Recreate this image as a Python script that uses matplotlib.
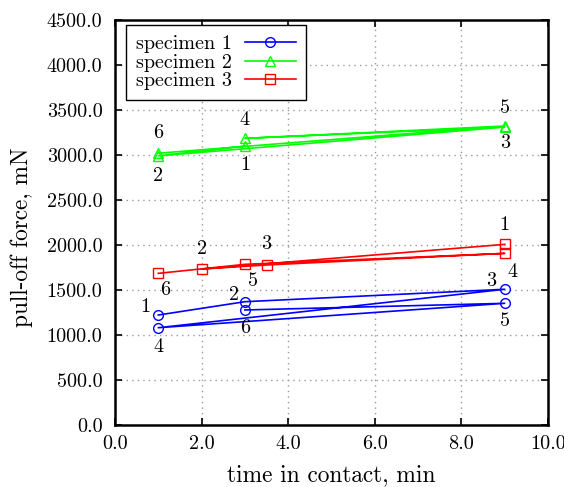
import matplotlib
matplotlib.use("Agg")
import matplotlib.pyplot as plt
from matplotlib.ticker import FormatStrFormatter, MultipleLocator

plt.rcParams["font.family"] = "cmr10"
plt.rcParams["mathtext.fontset"] = "cm"
plt.rcParams["axes.formatter.use_mathtext"] = True

# time in contact (min) and pull-off force (mN), in test order 1..6
s1_time = [1, 3, 9, 1, 9, 3]
s1_force = [1222, 1370, 1508, 1081, 1352, 1278]

s2_time = [3, 1, 9, 3, 9, 1]
s2_force = [3100, 2990, 3310, 3185, 3322, 3020]

s3_time = [9, 2, 3.5, 9, 3, 1]
s3_force = [2007, 1733, 1778, 1907, 1785, 1685]

series_names = ["specimen 1", "specimen 2", "specimen 3"]
point_labels = ["1", "2", "3", "4", "5", "6"]

# label offsets in pixels (dx, dy) for each point
s1_offsets = [(-13, 8), (-11, 7), (-14, 8), (0, -19), (0, -18), (0, -18)]
s2_offsets = [(0, -19), (0, -20), (0, -16), (0, 18), (0, 18), (0, 20)]
s3_offsets = [(0, 19), (0, 20), (0, 21), (8, -19), (8, -17), (7, -17)]

fig = plt.figure(figsize=(5.64, 4.87), dpi=100)
ax = fig.add_axes([115 / 564, 62 / 487, 433 / 564, 405 / 487])

series = [
    (s1_time, s1_force, s1_offsets, "#0000ff", "o"),
    (s2_time, s2_force, s2_offsets, "#00ff00", "^"),
    (s3_time, s3_force, s3_offsets, "#ff0000", "s"),
]

for (xs, ys, offs, color, marker), name in zip(series, series_names):
    ax.plot(
        xs, ys,
        color=color,
        marker=marker,
        markersize=7,
        markerfacecolor="none",
        markeredgewidth=1.0,
        linewidth=1.2,
        label=name,
    )
    for xv, yv, lab, (dx, dy) in zip(xs, ys, point_labels, offs):
        ax.annotate(
            lab,
            (xv, yv),
            xytext=(dx, dy),
            textcoords="offset pixels",
            ha="center",
            va="center",
            fontsize=14.5,
        )

ax.set_xlim(0, 10)
ax.set_ylim(0, 4500)
ax.xaxis.set_major_locator(MultipleLocator(2))
ax.yaxis.set_major_locator(MultipleLocator(500))
ax.xaxis.set_major_formatter(FormatStrFormatter("%.1f"))
ax.yaxis.set_major_formatter(FormatStrFormatter("%.1f"))

ax.grid(True, color="#999999", linestyle=(0, (1, 3)), linewidth=1.0)
ax.tick_params(
    direction="in",
    length=5,
    width=1.2,
    top=True,
    right=True,
    labelsize=14.5,
)
ax.tick_params(axis="y", pad=9)
ax.tick_params(axis="x", pad=7)
for spine in ax.spines.values():
    spine.set_linewidth(1.8)

ax.set_xlabel("time in contact, min", fontsize=16.8, labelpad=8)
ax.set_ylabel("pull-off force, mN", fontsize=16.8)
ax.yaxis.set_label_coords(-0.19, 0.464)

leg = ax.legend(
    loc="upper left",
    bbox_to_anchor=(11 / 433, 1 - 5 / 405),
    borderaxespad=0,
    markerfirst=False,
    fontsize=14.5,
    frameon=True,
    fancybox=False,
    edgecolor="black",
    framealpha=1,
    handlelength=2.5,
    labelspacing=0.02,
    borderpad=0.5,
    handletextpad=0.65,
)
leg.get_frame().set_linewidth(1.0)

fig.savefig("out.png", dpi=100)
